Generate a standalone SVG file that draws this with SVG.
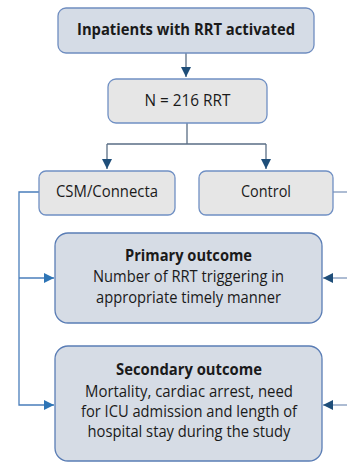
<svg xmlns="http://www.w3.org/2000/svg" width="347" height="462" viewBox="0 0 347 462">
  <style>
    .txt { font-family: "Open Sans", "Liberation Sans", sans-serif; font-size: 15.5px; fill: #1a1a1a; text-anchor: middle; }
    .bold { font-weight: bold; }
    .head { fill: #d5dce6; stroke: #6f8dc0; stroke-width: 1.3; }
    .grey { fill: #e6e6e6; stroke: #7090c4; stroke-width: 1.3; }
    .outcome { fill: #d6dce5; stroke: #5a7db5; stroke-width: 1.3; }
    .flow { fill: none; stroke: #5a6e85; stroke-width: 1.3; }
    .left { fill: none; stroke: #4a7ebb; stroke-width: 1.3; }
    .right { fill: none; stroke: #8098bb; stroke-width: 1.3; }
  </style>
  <defs>
    <marker id="tipDark" viewBox="0 0 10 10" refX="10" refY="5" markerWidth="10" markerHeight="10" markerUnits="userSpaceOnUse" orient="auto">
      <path d="M0,0 L10,5 L0,10 z" fill="#1f4e79"/>
    </marker>
    <marker id="tipBlue" viewBox="0 0 10 10" refX="10" refY="5" markerWidth="10" markerHeight="10" markerUnits="userSpaceOnUse" orient="auto">
      <path d="M0,0 L10,5 L0,10 z" fill="#2e75b6"/>
    </marker>
  </defs>

  <g id="connectors">
    <path class="flow" d="M186 53 V77" marker-end="url(#tipDark)"/>
    <path class="flow" d="M187 123 V144 M107 144 H266"/>
    <path class="flow" d="M107 144 V169" marker-end="url(#tipDark)"/>
    <path class="flow" d="M266 144 V169" marker-end="url(#tipDark)"/>
    <path class="left" d="M39 192 H19 V405 H54" marker-end="url(#tipBlue)"/>
    <path class="left" d="M19 278 H54" marker-end="url(#tipBlue)"/>
    <path class="right" d="M333 192 H347"/>
    <path class="right" d="M347 278 H323" marker-end="url(#tipDark)"/>
    <path class="right" d="M347 405 H323" marker-end="url(#tipDark)"/>
  </g>

  <g id="inpatients">
    <rect class="head" x="58" y="8" width="256" height="45" rx="8"/>
    <text class="txt bold" x="186" y="35" font-size="16" textLength="218" lengthAdjust="spacingAndGlyphs">Inpatients with RRT activated</text>
  </g>

  <g id="total">
    <rect class="grey" x="108" y="79" width="159" height="44" rx="8"/>
    <text class="txt" x="187.5" y="105.5" textLength="86" lengthAdjust="spacingAndGlyphs">N = 216 RRT</text>
  </g>

  <g id="csm">
    <rect class="grey" x="39" y="171" width="136" height="44" rx="7"/>
    <text class="txt" x="107" y="196.5" textLength="102" lengthAdjust="spacingAndGlyphs">CSM/Connecta</text>
  </g>

  <g id="control">
    <rect class="grey" x="199" y="171" width="134" height="44" rx="7"/>
    <text class="txt" x="266" y="196.5" textLength="50" lengthAdjust="spacingAndGlyphs">Control</text>
  </g>

  <g id="primary">
    <rect class="outcome" x="55" y="233" width="267" height="90" rx="13"/>
    <text class="txt bold" x="188.5" y="261" textLength="127" lengthAdjust="spacingAndGlyphs">Primary outcome</text>
    <text class="txt" x="188.5" y="282" textLength="191" lengthAdjust="spacingAndGlyphs">Number of RRT triggering in</text>
    <text class="txt" x="188.5" y="302.5" textLength="185" lengthAdjust="spacingAndGlyphs">appropriate timely manner</text>
  </g>

  <g id="secondary">
    <rect class="outcome" x="55" y="346" width="267" height="115" rx="13"/>
    <text class="txt bold" x="189" y="375" textLength="146" lengthAdjust="spacingAndGlyphs">Secondary outcome</text>
    <text class="txt" x="189" y="397" textLength="208" lengthAdjust="spacingAndGlyphs">Mortality, cardiac arrest, need</text>
    <text class="txt" x="189" y="417" textLength="216" lengthAdjust="spacingAndGlyphs">for ICU admission and length of</text>
    <text class="txt" x="189" y="437" textLength="203" lengthAdjust="spacingAndGlyphs">hospital stay during the study</text>
  </g>
</svg>
